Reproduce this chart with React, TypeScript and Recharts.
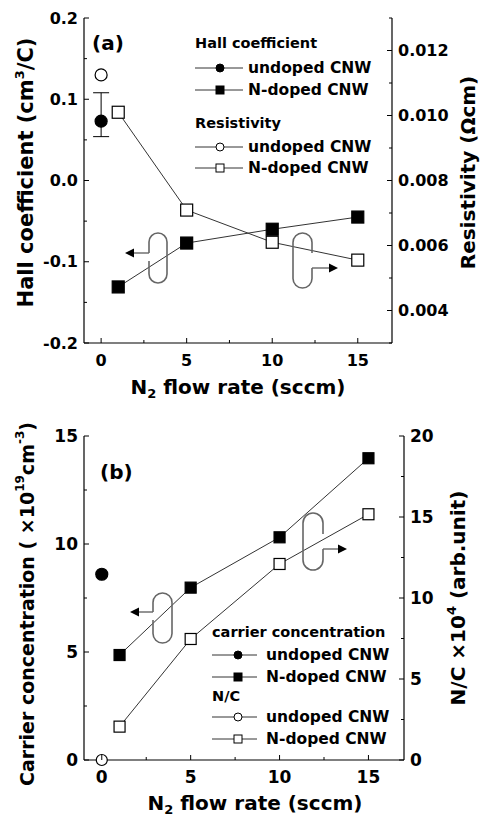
import React from 'react';
import { ComposedChart, Line, XAxis, YAxis, ErrorBar } from 'recharts';

const FONT = '"DejaVu Sans", Arial, sans-serif';

// panel (a): Hall coefficient / resistivity vs N2 flow
const flowA = [1, 5, 10, 15];
const hallDoped = [-0.131, -0.077, -0.06, -0.045];
const hallUndoped = 0.073;
const hallUndopedErr = [0.019, 0.035];
const resDoped = [0.0101, 0.00709, 0.0061, 0.00555];
const resUndoped = 0.01125;

// panel (b): carrier concentration / N/C vs N2 flow
const flowB = [1, 5, 10, 15];
const carrierDoped = [4.86, 7.98, 10.31, 13.97];
const carrierUndoped = 8.6;
const ncDoped = [2.06, 7.47, 12.1, 15.17];
const ncUndoped = 0;

// ticks
const xTicks = [0, 2.5, 5, 7.5, 10, 12.5, 15];
const xMajor = [0, 5, 10, 15];
const hallTicks = [-0.2, -0.15, -0.1, -0.05, 0, 0.05, 0.1, 0.15, 0.2];
const hallMajor = [-0.2, -0.1, 0, 0.1, 0.2];
const resTicks = [0.003, 0.004, 0.005, 0.006, 0.007, 0.008, 0.009, 0.01, 0.011, 0.012, 0.013];
const resMajor = [0.004, 0.006, 0.008, 0.01, 0.012];
const carrierTicks = [0, 2.5, 5, 7.5, 10, 12.5, 15];
const carrierMajor = [0, 5, 10, 15];
const ncTicks = [0, 2.5, 5, 7.5, 10, 12.5, 15, 17.5, 20];
const ncMajor = [0, 5, 10, 15, 20];

const isMajor = (v: number, majors: number[]) => majors.some(m => Math.abs(m - v) < 1e-9);

function makeTick(side: 'left' | 'right' | 'bottom' | 'top', majors: number[], fmt: (v: number) => string, fontSize: number) {
  return (props: any) => {
    const { x, y, payload } = props;
    const v = payload.value;
    const major = isMajor(v, majors);
    const len = major ? 5 : 3;
    const st = { fontFamily: FONT, fontWeight: 'bold' as const, fontSize, fill: '#000' };
    if (side === 'left') {
      return (
        <g>
          <line x1={x} x2={x + len} y1={y} y2={y} stroke="#000" />
          {major && <text x={x - 6} y={y} textAnchor="end" dominantBaseline="central" style={st}>{fmt(v)}</text>}
        </g>
      );
    }
    if (side === 'right') {
      return (
        <g>
          <line x1={x} x2={x - len} y1={y} y2={y} stroke="#000" />
          {major && <text x={x + 6} y={y} textAnchor="start" dominantBaseline="central" style={st}>{fmt(v)}</text>}
        </g>
      );
    }
    if (side === 'top') {
      return <line x1={x} x2={x} y1={y} y2={y + len} stroke="#000" />;
    }
    return (
      <g>
        <line x1={x} x2={x} y1={y} y2={y - len} stroke="#000" />
        {major && <text x={x} y={y + 17} textAnchor="middle" dominantBaseline="central" style={st}>{fmt(v)}</text>}
      </g>
    );
  };
}

const marker = (shape: 'circle' | 'square', filled: boolean, size: number) => (p: any) => {
  const { cx, cy, index } = p;
  if (cx == null || cy == null) return <g key={index} />;
  const fill = filled ? '#000' : '#fff';
  if (shape === 'circle')
    return <circle key={index} cx={cx} cy={cy} r={size / 2} fill={fill} stroke="#000" strokeWidth={1.2} />;
  return <rect key={index} x={cx - size / 2} y={cy - size / 2} width={size} height={size} fill={fill} stroke="#000" strokeWidth={1.2} />;
};

const titleStyle = { fontFamily: FONT, fontWeight: 'bold' as const, fontSize: 20, fill: '#000' };

const xTitle = (dx: number, dy: number) => (props: any) => {
  const vb = props.viewBox;
  return (
    <text x={vb.x + vb.width / 2 + dx} y={vb.y + dy} textAnchor="middle" dominantBaseline="central" style={titleStyle}>
      N<tspan dy={6} fontSize={13}>2</tspan><tspan dy={-6}> flow rate (sccm)</tspan>
    </text>
  );
};

const yTitle = (cx: number, dy: number, size: number, body: React.ReactNode) => (props: any) => {
  const vb = props.viewBox;
  const cy = vb.y + vb.height / 2 + dy;
  return (
    <text x={cx} y={cy} transform={`rotate(-90 ${cx} ${cy})`} textAnchor="middle" dominantBaseline="central" style={{ ...titleStyle, fontSize: size }}>
      {body}
    </text>
  );
};

function Capsule({ x0, x1, y0, y1, side, ay, tip }: { x0: number; x1: number; y0: number; y1: number; side: 'left' | 'right'; ay: number; tip: number }) {
  const r = (x1 - x0) / 2;
  let d: string;
  let arrow: string;
  let head: string;
  if (side === 'left') {
    d = `M${x0},${ay} L${x0},${y0 + r} A${r},${r} 0 0 1 ${x1},${y0 + r} L${x1},${y1 - r} A${r},${r} 0 0 1 ${x0},${y1 - r} L${x0},${ay + 8}`;
    arrow = `M${x0},${ay} L${tip + 8},${ay}`;
    head = `M${tip},${ay} L${tip + 9},${ay - 4.5} L${tip + 9},${ay + 4.5} Z`;
  } else {
    d = `M${x1},${ay - 15} L${x1},${y0 + r} A${r},${r} 0 0 0 ${x0},${y0 + r} L${x0},${y1 - r} A${r},${r} 0 0 0 ${x1},${y1 - r} L${x1},${ay}`;
    arrow = `M${x1},${ay} L${tip - 8},${ay}`;
    head = `M${tip},${ay} L${tip - 9},${ay - 4.5} L${tip - 9},${ay + 4.5} Z`;
  }
  return (
    <g>
      <path d={d} fill="none" stroke="#666" strokeWidth={1.6} />
      <path d={arrow} fill="none" stroke="#666" strokeWidth={1.4} />
      <path d={head} fill="#000" />
    </g>
  );
}

type Row = { head?: string; shape?: 'circle' | 'square'; filled?: boolean; label?: string; y: number };

function LegendBox({ x, lineEnd, mx, tx, rows, size, headSize }: { x: number; lineEnd: number; mx: number; tx: number; rows: Row[]; size: number; headSize: number }) {
  const st = { fontFamily: FONT, fontWeight: 'bold' as const, fontSize: size, fill: '#000' };
  return (
    <g>
      {rows.map((r, i) =>
        r.head ? (
          <text key={i} x={x} y={r.y} dominantBaseline="central" style={{ ...st, fontSize: headSize }}>{r.head}</text>
        ) : (
          <g key={i}>
            <line x1={x} x2={lineEnd} y1={r.y} y2={r.y} stroke="#333" />
            {r.shape === 'circle' ? (
              <circle cx={mx} cy={r.y} r={4} fill={r.filled ? '#000' : '#fff'} stroke="#000" />
            ) : (
              <rect x={mx - 4} y={r.y - 4} width={8} height={8} fill={r.filled ? '#000' : '#fff'} stroke="#000" />
            )}
            <text x={tx} y={r.y} dominantBaseline="central" style={st}>{r.label}</text>
          </g>
        )
      )}
    </g>
  );
}

const overlay: React.CSSProperties = { position: 'absolute', left: 0, top: 0, pointerEvents: 'none' };

function PanelA() {
  const hallDopedData = flowA.map((x, i) => ({ x, y: hallDoped[i] }));
  const hallUndopedData = [{ x: 0, y: hallUndoped, err: hallUndopedErr }];
  const resDopedData = flowA.map((x, i) => ({ x, y: resDoped[i] }));
  const resUndopedData = [{ x: 0, y: resUndoped }];
  return (
    <div style={{ position: 'absolute', left: 0, top: 0, width: 484, height: 420 }}>
      <ComposedChart width={484} height={420} margin={{ top: 18, right: 0, bottom: 0, left: 0 }}>
        <XAxis dataKey="x" type="number" domain={[-1, 17]} ticks={xTicks} interval={0} height={77}
          tickSize={0} tickMargin={0} axisLine={{ stroke: '#000', strokeWidth: 1.2 }} tickLine={false}
          tick={makeTick('bottom', xMajor, v => String(v), 16)} label={{ content: xTitle(0, 44) }} />
        <XAxis xAxisId="top" orientation="top" type="number" domain={[-1, 17]} ticks={xTicks} interval={0} height={0}
          tickSize={0} tickMargin={0} axisLine={{ stroke: '#000', strokeWidth: 1.2 }} tickLine={false}
          tick={makeTick('top', xMajor, v => String(v), 16)} />
        <YAxis yAxisId="l" type="number" domain={[-0.2, 0.2]} ticks={hallTicks} interval={0} width={84}
          tickSize={0} tickMargin={0} axisLine={{ stroke: '#000', strokeWidth: 1.2 }} tickLine={false}
          tick={makeTick('left', hallMajor, v => v.toFixed(1), 16)}
          label={{ content: yTitle(26, -8, 21, <>Hall coefficient (cm<tspan dy={-7} fontSize={13}>3</tspan><tspan dy={7}>/C)</tspan></>) }} />
        <YAxis yAxisId="r" orientation="right" type="number" domain={[0.003, 0.013]} ticks={resTicks} interval={0} width={92}
          tickSize={0} tickMargin={0} axisLine={{ stroke: '#000', strokeWidth: 1.2 }} tickLine={false}
          tick={makeTick('right', resMajor, v => v.toFixed(3), 16)}
          label={{ content: yTitle(468, -8, 20, <>Resistivity (Ωcm)</>) }} />
        <Line yAxisId="l" data={hallDopedData} dataKey="y" stroke="#333" strokeWidth={1} isAnimationActive={false}
          dot={marker('square', true, 12)} activeDot={false} />
        <Line yAxisId="r" data={resDopedData} dataKey="y" stroke="#333" strokeWidth={1} isAnimationActive={false}
          dot={marker('square', false, 12)} activeDot={false} />
        <Line yAxisId="r" data={resUndopedData} dataKey="y" stroke="#333" isAnimationActive={false}
          dot={marker('circle', false, 12)} activeDot={false} />
        <Line yAxisId="l" data={hallUndopedData} dataKey="y" stroke="#333" isAnimationActive={false}
          dot={marker('circle', true, 12)} activeDot={false}>
          <ErrorBar dataKey="err" direction="y" width={8} stroke="#000" strokeWidth={1} />
        </Line>
      </ComposedChart>
      <svg width={484} height={420} style={overlay}>
        <text x={92} y={43} dominantBaseline="central" style={titleStyle}>(a)</text>
        <LegendBox x={195} lineEnd={243} mx={220} tx={248} size={15.5} headSize={14.5} rows={[
          { head: 'Hall coefficient', y: 43 },
          { shape: 'circle', filled: true, label: 'undoped CNW', y: 68 },
          { shape: 'square', filled: true, label: 'N-doped CNW', y: 90 },
          { head: 'Resistivity', y: 123 },
          { shape: 'circle', filled: false, label: 'undoped CNW', y: 147 },
          { shape: 'square', filled: false, label: 'N-doped CNW', y: 168 },
        ]} />
        <Capsule x0={149} x1={167} y0={233} y1={283} side="left" ay={253} tip={125} />
        <Capsule x0={293} x1={312} y0={233} y1={288} side="right" ay={268} tip={338} />
      </svg>
    </div>
  );
}

function PanelB() {
  const carrierDopedData = flowB.map((x, i) => ({ x, y: carrierDoped[i] }));
  const carrierUndopedData = [{ x: 0, y: carrierUndoped }];
  const ncDopedData = flowB.map((x, i) => ({ x, y: ncDoped[i] }));
  const ncUndopedData = [{ x: 0, y: ncUndoped }];
  return (
    <div style={{ position: 'absolute', left: 0, top: 420, width: 484, height: 405 }}>
      <ComposedChart width={484} height={405} margin={{ top: 16, right: 0, bottom: 0, left: 0 }}>
        <XAxis dataKey="x" type="number" domain={[-1, 17]} ticks={xTicks} interval={0} height={65}
          tickSize={0} tickMargin={0} axisLine={{ stroke: '#000', strokeWidth: 1.2 }} tickLine={false}
          tick={makeTick('bottom', xMajor, v => String(v), 17)} label={{ content: xTitle(11, 43) }} />
        <XAxis xAxisId="top" orientation="top" type="number" domain={[-1, 17]} ticks={xTicks} interval={0} height={0}
          tickSize={0} tickMargin={0} axisLine={{ stroke: '#000', strokeWidth: 1.2 }} tickLine={false}
          tick={makeTick('top', xMajor, v => String(v), 17)} />
        <YAxis yAxisId="l" type="number" domain={[0, 15]} ticks={carrierTicks} interval={0} width={84}
          tickSize={0} tickMargin={0} axisLine={{ stroke: '#000', strokeWidth: 1.2 }} tickLine={false}
          tick={makeTick('left', carrierMajor, v => String(v), 17)}
          label={{ content: yTitle(27, 6, 19, <>Carrier concentration ( ×10<tspan dy={-7} fontSize={12}>19</tspan><tspan dy={7}>cm</tspan><tspan dy={-7} fontSize={12}>-3</tspan><tspan dy={7}>)</tspan></>) }} />
        <YAxis yAxisId="r" orientation="right" type="number" domain={[0, 20]} ticks={ncTicks} interval={0} width={80}
          tickSize={0} tickMargin={0} axisLine={{ stroke: '#000', strokeWidth: 1.2 }} tickLine={false}
          tick={makeTick('right', ncMajor, v => String(v), 17)}
          label={{ content: yTitle(458, 0, 20, <>N/C ×10<tspan dy={-7} fontSize={13}>4</tspan><tspan dy={7}> (arb.unit)</tspan></>) }} />
        <Line yAxisId="l" data={carrierDopedData} dataKey="y" stroke="#333" strokeWidth={1} isAnimationActive={false}
          dot={marker('square', true, 11)} activeDot={false} />
        <Line yAxisId="r" data={ncDopedData} dataKey="y" stroke="#333" strokeWidth={1} isAnimationActive={false}
          dot={marker('square', false, 11)} activeDot={false} />
        <Line yAxisId="l" data={carrierUndopedData} dataKey="y" stroke="#333" isAnimationActive={false}
          dot={marker('circle', true, 12)} activeDot={false} />
        <Line yAxisId="r" data={ncUndopedData} dataKey="y" stroke="#333" isAnimationActive={false}
          dot={marker('circle', false, 11)} activeDot={false} />
      </ComposedChart>
      <svg width={484} height={405} style={overlay}>
        <text x={100} y={52} dominantBaseline="central" style={titleStyle}>(b)</text>
        <LegendBox x={212} lineEnd={257} mx={238} tx={266} size={15.5} headSize={14.5} rows={[
          { head: 'carrier concentration', y: 212 },
          { shape: 'circle', filled: true, label: 'undoped CNW', y: 235 },
          { shape: 'square', filled: true, label: 'N-doped CNW', y: 257 },
          { head: 'N/C', y: 276 },
          { shape: 'circle', filled: false, label: 'undoped CNW', y: 297 },
          { shape: 'square', filled: false, label: 'N-doped CNW', y: 319 },
        ]} />
        <Capsule x0={153} x1={172} y0={173} y1={223} side="left" ay={192} tip={130} />
        <Capsule x0={303} x1={323} y0={93} y1={150} side="right" ay={129} tip={347} />
      </svg>
    </div>
  );
}

export default function App() {
  return (
    <div style={{ position: 'absolute', left: 0, top: 0, width: 484, height: 825, background: '#fff' }}>
      <PanelA />
      <PanelB />
    </div>
  );
}
